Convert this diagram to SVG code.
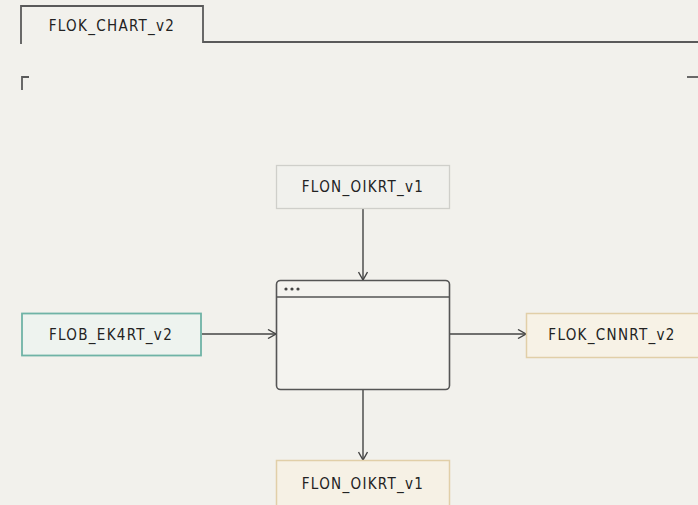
<svg xmlns="http://www.w3.org/2000/svg" width="698" height="505" viewBox="0 0 698 505">
<defs>
<marker id="chev" viewBox="0 0 10 10" refX="9" refY="5" markerWidth="10" markerHeight="10" markerUnits="userSpaceOnUse" orient="auto">
<path d="M1,0.5 L9,5 L1,9.5" fill="none" stroke="#444" stroke-width="1.4"/>
</marker>
</defs>
<style>
text{font-family:"DejaVu Sans Condensed","Liberation Sans",Arial,sans-serif;font-size:15px;fill:#222;letter-spacing:1.3px;text-anchor:middle;dominant-baseline:central}
.frame{fill:none;stroke:#5a5a5a;stroke-width:1.8}
.conn{stroke:#444;stroke-width:1.4;fill:none;marker-end:url(#chev)}
</style>
<rect width="698" height="505" fill="#f2f1ec"/>
<g id="frame">
<path class="frame" d="M21,44 V6 H203 V42 H698"/>
<path class="frame" d="M22,90 V77 H29" stroke-width="2"/>
<path class="frame" d="M687,77 H698" stroke-width="2"/>
<text x="112" y="26">FLOK_CHART_v2</text>
</g>
<g id="connectors">
<line class="conn" x1="363" y1="209" x2="363" y2="280"/>
<line class="conn" x1="202" y1="334" x2="276" y2="334"/>
<line class="conn" x1="450" y1="334" x2="526" y2="334"/>
<line class="conn" x1="363" y1="390" x2="363" y2="460"/>
</g>
<g id="top">
<rect x="276.5" y="165.5" width="173" height="43" fill="#f1f1ed" stroke="#cfcfca" stroke-width="1.3"/>
<text x="363" y="187">FLON_OIKRT_v1</text>
</g>
<g id="window">
<rect x="276.5" y="280.5" width="173" height="109" rx="4" fill="#f4f3ef" stroke="#555" stroke-width="1.6"/>
<line x1="277" y1="297" x2="449" y2="297" stroke="#555" stroke-width="1.4"/>
<circle cx="286" cy="289" r="1.6" fill="#444"/>
<circle cx="292" cy="289" r="1.6" fill="#444"/>
<circle cx="298" cy="289" r="1.6" fill="#444"/>
</g>
<g id="left">
<rect x="22" y="313.5" width="179" height="42" fill="#eef3ef" stroke="#6fb3a6" stroke-width="1.8"/>
<text x="111" y="335">FLOB_EK4RT_v2</text>
</g>
<g id="right">
<rect x="526.5" y="313.5" width="175" height="44" fill="#f7f2e6" stroke="#e1cfa8" stroke-width="1.5"/>
<text x="612" y="335">FLOK_CNNRT_v2</text>
</g>
<g id="bottom">
<rect x="276.5" y="460.5" width="173" height="48" fill="#f6f1e5" stroke="#e1cfa8" stroke-width="1.5"/>
<text x="363" y="484">FLON_OIKRT_v1</text>
</g>
</svg>
